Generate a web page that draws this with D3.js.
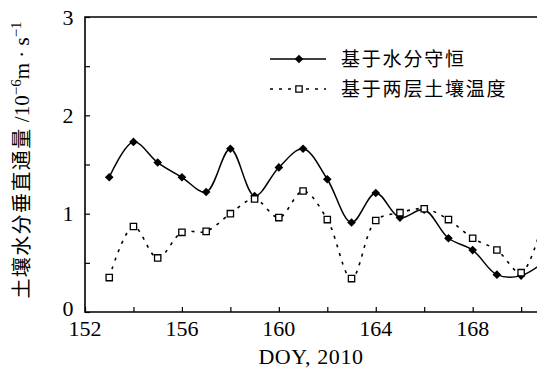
<!DOCTYPE html>
<html>
<head>
<meta charset="utf-8">
<script src="https://cdn.jsdelivr.net/npm/d3@7"></script>
<style>
  body { margin: 0; background: #fff; }
  svg { display: block; }
</style>
</head>
<body>
<div id="chart"></div>
<script>
// Dados
var days = [153, 154, 155, 156, 157, 158, 159, 160, 161, 162, 163, 164, 165, 166, 167, 168, 169, 170, 171];
var waterBalance = [1.37, 1.73, 1.52, 1.37, 1.22, 1.66, 1.18, 1.47, 1.66, 1.35, 0.91, 1.21, 0.96, 1.04, 0.75, 0.63, 0.38, 0.37, 0.52];
var twoLayerTemp = [0.35, 0.87, 0.55, 0.81, 0.82, 1.00, 1.15, 0.96, 1.23, 0.94, 0.34, 0.93, 1.01, 1.05, 0.94, 0.75, 0.63, 0.40, 1.02];
var xTicks = [152, 156, 160, 164, 168];
var yTicks = [0, 1, 2, 3];
var seriesNames = ['基于水分守恒', '基于两层土壤温度'];

var width = 537, height = 374;
var plotLeft = 85, plotRight = 537, plotTop = 17, plotBottom = 312;

var serif = '"Liberation Serif", "DejaVu Serif", serif';
var cjk = '"Noto Sans CJK SC", "Noto Sans", sans-serif';
var dotted = '3,6';

var svg = d3.select('#chart').append('svg')
  .attr('width', width)
  .attr('height', height);

var x = d3.scaleLinear().domain([152, 170.655]).range([plotLeft, plotRight]);
var y = d3.scaleLinear().domain([0, 3]).range([plotBottom, plotTop]);

svg.append('clipPath').attr('id', 'plot-clip')
  .append('rect')
  .attr('x', plotLeft).attr('y', plotTop - 5)
  .attr('width', plotRight - plotLeft).attr('height', plotBottom - plotTop + 5);

// Eixos com ticks para dentro
var yAxis = d3.axisRight(y)
  .tickValues(d3.range(0, 3.01, 0.5))
  .tickSize(5)
  .tickFormat('');
svg.append('g')
  .attr('transform', 'translate(' + plotLeft + ',0)')
  .call(yAxis)
  .call(function (g) {
    g.select('.domain').remove();
    g.selectAll('line').attr('stroke', '#000').attr('stroke-width', 1.2);
  });

var xAxis = d3.axisTop(x)
  .tickValues(d3.range(152, 171, 2))
  .tickSize(5)
  .tickFormat('');
svg.append('g')
  .attr('transform', 'translate(0,' + plotBottom + ')')
  .call(xAxis)
  .call(function (g) {
    g.select('.domain').remove();
    g.selectAll('line').attr('stroke', '#000').attr('stroke-width', 1.2);
  });

// Moldura (esquerda, baixo, topo)
svg.append('path')
  .attr('d', 'M' + plotRight + ',' + y(3) + 'H' + plotLeft + 'V' + y(0) + 'H' + plotRight)
  .attr('fill', 'none')
  .attr('stroke', '#000')
  .attr('stroke-width', 1.6);

// Rótulos dos ticks
svg.append('g').selectAll('text')
  .data(yTicks)
  .enter().append('text')
  .attr('x', plotLeft - 17)
  .attr('y', function (d) { return y(d) - (d === 0 ? 4 : 0); })
  .attr('dy', '0.35em')
  .attr('text-anchor', 'middle')
  .attr('font-family', serif)
  .attr('font-size', 22)
  .text(function (d) { return d; });

svg.append('g').selectAll('text')
  .data(xTicks)
  .enter().append('text')
  .attr('x', function (d) { return x(d); })
  .attr('y', plotBottom + 24)
  .attr('text-anchor', 'middle')
  .attr('font-family', serif)
  .attr('font-size', 22)
  .text(function (d) { return d; });

svg.append('text')
  .attr('x', 311)
  .attr('y', 364)
  .attr('text-anchor', 'middle')
  .attr('font-family', serif)
  .attr('font-size', 22)
  .attr('letter-spacing', 0.6)
  .text('DOY, 2010');

// Título do eixo y
var yLabel = svg.append('text')
  .attr('transform', 'translate(29,160) rotate(-90)')
  .attr('text-anchor', 'middle')
  .attr('font-size', 20);
yLabel.append('tspan').attr('font-family', cjk).attr('letter-spacing', 1.4).text('土壤水分垂直通量');
yLabel.append('tspan').attr('font-family', serif).attr('font-size', 21).text(' /10');
yLabel.append('tspan').attr('font-family', serif).attr('font-size', 15).attr('dy', -8).text('−6');
yLabel.append('tspan').attr('font-family', serif).attr('font-size', 21).attr('dy', 8).text('m · s');
yLabel.append('tspan').attr('font-family', serif).attr('font-size', 15).attr('dy', -8).text('−1');

// Linhas suavizadas
var makeLine = function (values) {
  return d3.line()
    .x(function (d, i) { return x(days[i]); })
    .y(function (d) { return y(d); })
    .curve(d3.curveCatmullRom.alpha(0.5))(values);
};

var plot = svg.append('g').attr('clip-path', 'url(#plot-clip)');

plot.append('path')
  .attr('d', makeLine(twoLayerTemp))
  .attr('fill', 'none')
  .attr('stroke', '#000')
  .attr('stroke-width', 1.6)
  .attr('stroke-dasharray', dotted);

plot.append('path')
  .attr('d', makeLine(waterBalance))
  .attr('fill', 'none')
  .attr('stroke', '#000')
  .attr('stroke-width', 1.5);

var diamond = d3.symbol().type(d3.symbolDiamond2).size(48);
var square = d3.symbol().type(d3.symbolSquare).size(40);

plot.selectAll('.wb')
  .data(waterBalance)
  .enter().append('path')
  .attr('class', 'wb')
  .attr('transform', function (d, i) { return 'translate(' + x(days[i]) + ',' + y(d) + ')'; })
  .attr('d', diamond)
  .attr('fill', '#000');

plot.selectAll('.tl')
  .data(twoLayerTemp)
  .enter().append('path')
  .attr('class', 'tl')
  .attr('transform', function (d, i) { return 'translate(' + x(days[i]) + ',' + y(d) + ')'; })
  .attr('d', square)
  .attr('fill', '#fff')
  .attr('stroke', '#000')
  .attr('stroke-width', 1.3);

// Legenda
var legend = svg.append('g');
var legendRows = [
  { name: seriesNames[0], dash: null, symbol: diamond, fill: '#000' },
  { name: seriesNames[1], dash: dotted, symbol: square, fill: '#fff' }
];
legendRows.forEach(function (row, i) {
  var ly = 59 + i * 30;
  legend.append('line')
    .attr('x1', 270).attr('x2', 326)
    .attr('y1', ly).attr('y2', ly)
    .attr('stroke', '#000')
    .attr('stroke-width', 1.5)
    .attr('stroke-dasharray', row.dash);
  legend.append('path')
    .attr('transform', 'translate(299,' + ly + ')')
    .attr('d', row.symbol)
    .attr('fill', row.fill)
    .attr('stroke', row.fill === '#fff' ? '#000' : null)
    .attr('stroke-width', 1.3);
  legend.append('text')
    .attr('x', 341)
    .attr('y', ly)
    .attr('dy', '0.36em')
    .attr('font-family', cjk)
    .attr('font-size', 19)
    .attr('letter-spacing', 1.8)
    .text(row.name);
});
</script>
</body>
</html>
